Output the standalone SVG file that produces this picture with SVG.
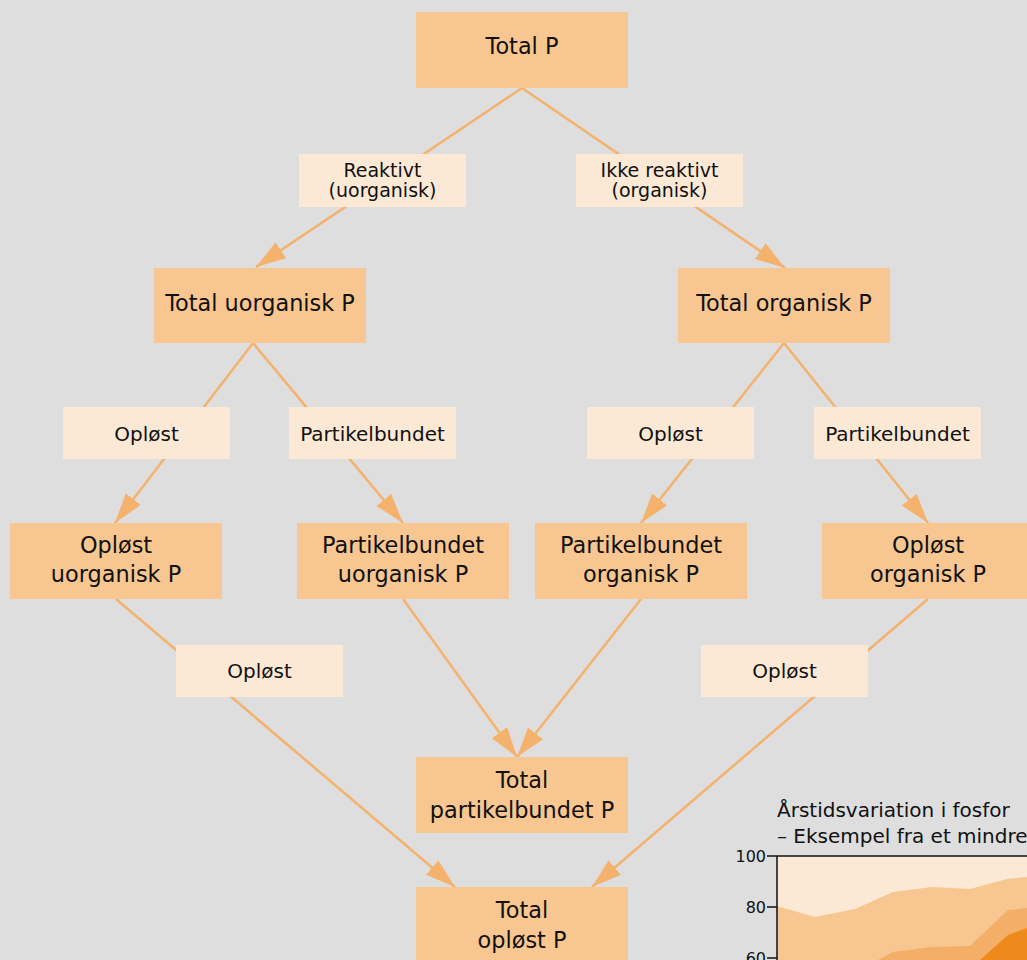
<svg xmlns="http://www.w3.org/2000/svg" width="1027" height="960" viewBox="0 0 1027 960">
<style>
.bg{fill:#DEDEDE}
.box{fill:#F8C690}
.lbl{fill:#FBE9D5}
.t{font-family:"DejaVu Sans","Open Sans",sans-serif;fill:#111;text-anchor:middle}
.big{font-size:22.4px}
.sm{font-size:20px}
.sm2{font-size:19px}
.conn{stroke:#F4B26C;stroke-width:2.5;fill:none;marker-end:url(#ah)}
.ax{font-family:"DejaVu Sans","Open Sans",sans-serif;fill:#111;font-size:16px;text-anchor:end}
.title{font-family:"DejaVu Sans","Open Sans",sans-serif;fill:#111;font-size:20px}
</style>
<defs>
<marker id="ah" markerUnits="userSpaceOnUse" markerWidth="31" markerHeight="20" refX="30" refY="9.5" orient="auto">
<path d="M0,0 L30,9.5 L0,19 z" fill="#F4B26C"/>
</marker>
</defs>
<rect class="bg" x="0" y="0" width="1027" height="960"/>

<g id="chart">
<rect x="777" y="856" width="250" height="104" fill="#FBE9D5"/>
<polygon fill="#F8C690" points="777,906 815,917 855,909 893,892 932,887 970,889 1007,879 1027,877 1027,960 777,960"/>
<polygon fill="#F3AE68" points="878,960 893,952 932,947 970,946 1008,910 1027,908 1027,960"/>
<polygon fill="#EE8A1C" points="980,960 1008,935 1027,928 1027,960"/>
<path d="M777,856 L1027,856 M777,856 L777,960 M767,856 L777,856 M767,907 L777,907 M767,958 L777,958" stroke="#111" stroke-width="1.5" fill="none"/>
<text class="ax" x="766" y="862">100</text>
<text class="ax" x="766" y="913">80</text>
<text class="ax" x="766" y="964">60</text>
<text class="title" x="777" y="817">Årstidsvariation i fosfor</text>
<text class="title" x="777" y="843">– Eksempel fra et mindre</text>
</g>

<g id="connectors">
<path class="conn" d="M522,88 L256,267"/>
<path class="conn" d="M522,88 L785,268"/>
<path class="conn" d="M253,343 L115,523"/>
<path class="conn" d="M253,343 L403,523"/>
<path class="conn" d="M784,343 L641,523"/>
<path class="conn" d="M784,343 L928,523"/>
<path class="conn" d="M116,599 L455,887"/>
<path class="conn" d="M928,599 L592,887"/>
<path class="conn" d="M403,599 L517,757"/>
<path class="conn" d="M641,599 L517,757"/>
</g>

<g id="total-p"><rect class="box" x="416" y="12" width="212" height="76"/><text class="t big" x="522" y="54">Total P</text></g>

<g id="lbl-reaktivt"><rect class="lbl" x="299" y="154" width="167" height="53"/><text class="t sm2" x="382.5" y="177">Reaktivt</text><text class="t sm2" x="382.5" y="197">(uorganisk)</text></g>
<g id="lbl-ikke-reaktivt"><rect class="lbl" x="576" y="154" width="167" height="53"/><text class="t sm2" x="659.5" y="177">Ikke reaktivt</text><text class="t sm2" x="659.5" y="197">(organisk)</text></g>

<g id="total-uorganisk"><rect class="box" x="154" y="268" width="212" height="75"/><text class="t big" x="260" y="311">Total uorganisk P</text></g>
<g id="total-organisk"><rect class="box" x="678" y="268" width="212" height="75"/><text class="t big" x="784" y="311">Total organisk P</text></g>

<g id="lbl-oploest-1"><rect class="lbl" x="63" y="407" width="167" height="52"/><text class="t sm" x="146.5" y="441">Opløst</text></g>
<g id="lbl-partikel-1"><rect class="lbl" x="289" y="407" width="167" height="52"/><text class="t sm" x="372.5" y="441">Partikelbundet</text></g>
<g id="lbl-oploest-2"><rect class="lbl" x="587" y="407" width="167" height="52"/><text class="t sm" x="670.5" y="441">Opløst</text></g>
<g id="lbl-partikel-2"><rect class="lbl" x="814" y="407" width="167" height="52"/><text class="t sm" x="897.5" y="441">Partikelbundet</text></g>

<g id="oploest-uorganisk"><rect class="box" x="10" y="523" width="212" height="76"/><text class="t big" x="116" y="553">Opløst</text><text class="t big" x="116" y="582">uorganisk P</text></g>
<g id="partikel-uorganisk"><rect class="box" x="297" y="523" width="212" height="76"/><text class="t big" x="403" y="553">Partikelbundet</text><text class="t big" x="403" y="582">uorganisk P</text></g>
<g id="partikel-organisk"><rect class="box" x="535" y="523" width="212" height="76"/><text class="t big" x="641" y="553">Partikelbundet</text><text class="t big" x="641" y="582">organisk P</text></g>
<g id="oploest-organisk"><rect class="box" x="822" y="523" width="212" height="76"/><text class="t big" x="928" y="553">Opløst</text><text class="t big" x="928" y="582">organisk P</text></g>

<g id="lbl-oploest-3"><rect class="lbl" x="176" y="645" width="167" height="52"/><text class="t sm" x="259.5" y="678">Opløst</text></g>
<g id="lbl-oploest-4"><rect class="lbl" x="701" y="645" width="167" height="52"/><text class="t sm" x="784.5" y="678">Opløst</text></g>

<g id="total-partikel"><rect class="box" x="416" y="757" width="212" height="76"/><text class="t big" x="522" y="788">Total</text><text class="t big" x="522" y="818">partikelbundet P</text></g>
<g id="total-oploest"><rect class="box" x="416" y="887" width="212" height="76"/><text class="t big" x="522" y="918">Total</text><text class="t big" x="522" y="948">opløst P</text></g>
</svg>
